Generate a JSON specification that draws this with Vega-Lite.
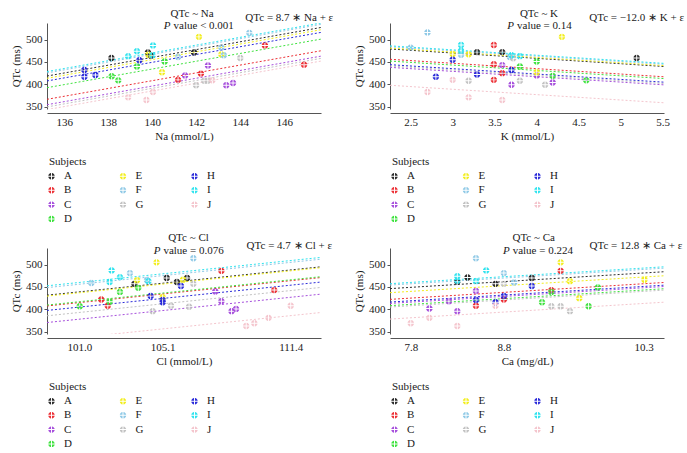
{
"$schema": "https://vega.github.io/schema/vega-lite/v6.json",
"padding": {"left": 10, "top": 7, "right": 0, "bottom": 0},
"columns": 2,
"spacing": {"row": 139, "column": 69},
"bounds": "flush",
"resolve": {"scale": {"color": "independent", "x": "independent", "y": "independent"}, "legend": {"color": "independent"}},
"datasets": {
"pts": [
{"panel":"Na","subject":"A","x":138.14,"qtc":459},{"panel":"Na","subject":"A","x":139.8,"qtc":471},{"panel":"Na","subject":"A","x":139.94,"qtc":464},{"panel":"Na","subject":"A","x":141.9,"qtc":471},
{"panel":"Na","subject":"B","x":141.17,"qtc":410},{"panel":"Na","subject":"B","x":142.21,"qtc":424},{"panel":"Na","subject":"B","x":145.12,"qtc":487},{"panel":"Na","subject":"B","x":146.9,"qtc":444},
{"panel":"Na","subject":"C","x":141.49,"qtc":420},{"panel":"Na","subject":"C","x":142.53,"qtc":442},{"panel":"Na","subject":"C","x":143.36,"qtc":398},{"panel":"Na","subject":"C","x":143.67,"qtc":403},
{"panel":"Na","subject":"D","x":138.15,"qtc":418},{"panel":"Na","subject":"D","x":138.45,"qtc":409},{"panel":"Na","subject":"D","x":139.3,"qtc":440},{"panel":"Na","subject":"D","x":140.56,"qtc":451},
{"panel":"Na","subject":"E","x":139.82,"qtc":466},{"panel":"Na","subject":"E","x":140.44,"qtc":427},{"panel":"Na","subject":"E","x":142.12,"qtc":506},{"panel":"Na","subject":"E","x":143.14,"qtc":467},
{"panel":"Na","subject":"F","x":141.17,"qtc":461},{"panel":"Na","subject":"F","x":143.14,"qtc":482},{"panel":"Na","subject":"F","x":144.41,"qtc":515},{"panel":"Na","subject":"F","x":143.25,"qtc":465},
{"panel":"Na","subject":"G","x":141.99,"qtc":398},{"panel":"Na","subject":"G","x":142.36,"qtc":408},{"panel":"Na","subject":"G","x":142.52,"qtc":408},{"panel":"Na","subject":"G","x":144.0,"qtc":459},
{"panel":"Na","subject":"H","x":136.91,"qtc":432},{"panel":"Na","subject":"H","x":136.91,"qtc":417},{"panel":"Na","subject":"H","x":137.41,"qtc":421},{"panel":"Na","subject":"H","x":139.41,"qtc":454},
{"panel":"Na","subject":"I","x":138.9,"qtc":463},{"panel":"Na","subject":"I","x":139.3,"qtc":474},{"panel":"Na","subject":"I","x":140.03,"qtc":487},{"panel":"Na","subject":"I","x":140.0,"qtc":465},
{"panel":"Na","subject":"J","x":138.9,"qtc":371},{"panel":"Na","subject":"J","x":139.73,"qtc":365},{"panel":"Na","subject":"J","x":140.03,"qtc":383},{"panel":"Na","subject":"J","x":142.73,"qtc":409},
{"panel":"K","subject":"A","x":3.29,"qtc":472},{"panel":"K","subject":"A","x":3.59,"qtc":472},{"panel":"K","subject":"A","x":5.19,"qtc":459},
{"panel":"K","subject":"B","x":3.49,"qtc":488},{"panel":"K","subject":"B","x":3.49,"qtc":445},{"panel":"K","subject":"B","x":3.59,"qtc":425},{"panel":"K","subject":"B","x":3.49,"qtc":410},
{"panel":"K","subject":"C","x":3.59,"qtc":443},{"panel":"K","subject":"C","x":3.7,"qtc":399},{"panel":"K","subject":"C","x":4.0,"qtc":420},{"panel":"K","subject":"C","x":4.19,"qtc":404},
{"panel":"K","subject":"D","x":3.8,"qtc":440},{"panel":"K","subject":"D","x":4.0,"qtc":451},{"panel":"K","subject":"D","x":4.19,"qtc":419},{"panel":"K","subject":"D","x":4.59,"qtc":409},
{"panel":"K","subject":"E","x":3.0,"qtc":468},{"panel":"K","subject":"E","x":3.19,"qtc":467},{"panel":"K","subject":"E","x":4.3,"qtc":506},{"panel":"K","subject":"E","x":4.0,"qtc":427},
{"panel":"K","subject":"F","x":2.7,"qtc":516},{"panel":"K","subject":"F","x":2.5,"qtc":482},{"panel":"K","subject":"F","x":3.1,"qtc":466},{"panel":"K","subject":"F","x":3.68,"qtc":461},
{"panel":"K","subject":"G","x":3.19,"qtc":408},{"panel":"K","subject":"G","x":3.8,"qtc":408},{"panel":"K","subject":"G","x":4.1,"qtc":399},{"panel":"K","subject":"G","x":3.72,"qtc":458},
{"panel":"K","subject":"H","x":3.0,"qtc":455},{"panel":"K","subject":"H","x":2.8,"qtc":417},{"panel":"K","subject":"H","x":3.29,"qtc":422},{"panel":"K","subject":"H","x":3.7,"qtc":432},
{"panel":"K","subject":"I","x":3.1,"qtc":488},{"panel":"K","subject":"I","x":3.1,"qtc":475},{"panel":"K","subject":"I","x":3.7,"qtc":465},{"panel":"K","subject":"I","x":3.8,"qtc":463},
{"panel":"K","subject":"J","x":3.0,"qtc":410},{"panel":"K","subject":"J","x":2.7,"qtc":383},{"panel":"K","subject":"J","x":3.19,"qtc":371},{"panel":"K","subject":"J","x":3.59,"qtc":365},
{"panel":"Cl","subject":"A","x":103.71,"qtc":457},{"panel":"Cl","subject":"A","x":105.3,"qtc":470},{"panel":"Cl","subject":"A","x":105.8,"qtc":461},{"panel":"Cl","subject":"A","x":106.3,"qtc":470},
{"panel":"Cl","subject":"B","x":102.08,"qtc":422},{"panel":"Cl","subject":"B","x":102.4,"qtc":408},{"panel":"Cl","subject":"B","x":107.99,"qtc":486},{"panel":"Cl","subject":"B","x":110.59,"qtc":443},
{"panel":"Cl","subject":"C","x":107.69,"qtc":440},{"panel":"Cl","subject":"C","x":107.99,"qtc":418},{"panel":"Cl","subject":"C","x":108.49,"qtc":396},{"panel":"Cl","subject":"C","x":108.71,"qtc":401},
{"panel":"Cl","subject":"D","x":101.02,"qtc":407},{"panel":"Cl","subject":"D","x":102.49,"qtc":417},{"panel":"Cl","subject":"D","x":103.0,"qtc":439},{"panel":"Cl","subject":"D","x":103.9,"qtc":448},
{"panel":"Cl","subject":"E","x":104.8,"qtc":505},{"panel":"Cl","subject":"E","x":103.84,"qtc":465},{"panel":"Cl","subject":"E","x":106.1,"qtc":466},{"panel":"Cl","subject":"E","x":105.1,"qtc":427},
{"panel":"Cl","subject":"F","x":101.59,"qtc":459},{"panel":"Cl","subject":"F","x":103.49,"qtc":481},{"panel":"Cl","subject":"F","x":106.61,"qtc":514},{"panel":"Cl","subject":"F","x":104.33,"qtc":465},
{"panel":"Cl","subject":"G","x":104.61,"qtc":396},{"panel":"Cl","subject":"G","x":105.51,"qtc":408},{"panel":"Cl","subject":"G","x":106.4,"qtc":406},{"panel":"Cl","subject":"G","x":106.61,"qtc":457},
{"panel":"Cl","subject":"H","x":104.51,"qtc":430},{"panel":"Cl","subject":"H","x":105.1,"qtc":421},{"panel":"Cl","subject":"H","x":105.1,"qtc":416},{"panel":"Cl","subject":"H","x":106.0,"qtc":452},
{"panel":"Cl","subject":"I","x":102.59,"qtc":487},{"panel":"Cl","subject":"I","x":102.49,"qtc":461},{"panel":"Cl","subject":"I","x":103.0,"qtc":472},{"panel":"Cl","subject":"I","x":104.4,"qtc":463},
{"panel":"Cl","subject":"J","x":109.21,"qtc":363},{"panel":"Cl","subject":"J","x":109.61,"qtc":369},{"panel":"Cl","subject":"J","x":110.31,"qtc":381},{"panel":"Cl","subject":"J","x":111.4,"qtc":408},
{"panel":"Ca","subject":"A","x":8.3,"qtc":462},{"panel":"Ca","subject":"A","x":8.41,"qtc":471},{"panel":"Ca","subject":"A","x":8.71,"qtc":457},{"panel":"Ca","subject":"A","x":9.1,"qtc":470},
{"panel":"Ca","subject":"B","x":8.5,"qtc":408},{"panel":"Ca","subject":"B","x":8.8,"qtc":422},{"panel":"Ca","subject":"B","x":9.31,"qtc":443},{"panel":"Ca","subject":"B","x":9.41,"qtc":486},
{"panel":"Ca","subject":"C","x":8.21,"qtc":418},{"panel":"Ca","subject":"C","x":8.0,"qtc":402},{"panel":"Ca","subject":"C","x":8.3,"qtc":396},{"panel":"Ca","subject":"C","x":8.5,"qtc":441},
{"panel":"Ca","subject":"D","x":9.21,"qtc":416},{"panel":"Ca","subject":"D","x":9.31,"qtc":439},{"panel":"Ca","subject":"D","x":9.71,"qtc":407},{"panel":"Ca","subject":"D","x":9.81,"qtc":449},
{"panel":"Ca","subject":"E","x":9.41,"qtc":505},{"panel":"Ca","subject":"E","x":9.51,"qtc":463},{"panel":"Ca","subject":"E","x":9.61,"qtc":425},{"panel":"Ca","subject":"E","x":10.31,"qtc":466},
{"panel":"Ca","subject":"F","x":8.5,"qtc":514},{"panel":"Ca","subject":"F","x":8.8,"qtc":481},{"panel":"Ca","subject":"F","x":8.91,"qtc":460},
{"panel":"Ca","subject":"G","x":8.8,"qtc":457},{"panel":"Ca","subject":"G","x":9.31,"qtc":407},{"panel":"Ca","subject":"G","x":9.41,"qtc":407},{"panel":"Ca","subject":"G","x":9.51,"qtc":396},
{"panel":"Ca","subject":"H","x":9.1,"qtc":452},{"panel":"Ca","subject":"H","x":8.5,"qtc":421},{"panel":"Ca","subject":"H","x":8.71,"qtc":416},{"panel":"Ca","subject":"H","x":8.8,"qtc":430},
{"panel":"Ca","subject":"I","x":8.61,"qtc":487},{"panel":"Ca","subject":"I","x":8.3,"qtc":474},{"panel":"Ca","subject":"I","x":8.3,"qtc":464},{"panel":"Ca","subject":"I","x":8.5,"qtc":463},
{"panel":"Ca","subject":"J","x":7.8,"qtc":369},{"panel":"Ca","subject":"J","x":8.0,"qtc":381},{"panel":"Ca","subject":"J","x":8.3,"qtc":363},{"panel":"Ca","subject":"J","x":8.71,"qtc":408}
],
"lines": [
{"panel":"Na","subject":"A","x1":135.21,"y1":418.6,"x2":147.67,"y2":527},{"panel":"Na","subject":"B","x1":135.21,"y1":366.6,"x2":147.67,"y2":475},{"panel":"Na","subject":"C","x1":135.21,"y1":354.6,"x2":147.67,"y2":463},{"panel":"Na","subject":"D","x1":135.21,"y1":392.6,"x2":147.67,"y2":501},{"panel":"Na","subject":"E","x1":135.21,"y1":413.6,"x2":147.67,"y2":522},{"panel":"Na","subject":"F","x1":135.21,"y1":425.6,"x2":147.67,"y2":534},{"panel":"Na","subject":"G","x1":135.21,"y1":349.6,"x2":147.67,"y2":458},{"panel":"Na","subject":"H","x1":135.21,"y1":407.6,"x2":147.67,"y2":516},{"panel":"Na","subject":"I","x1":135.21,"y1":428.6,"x2":147.67,"y2":537},{"panel":"Na","subject":"J","x1":135.21,"y1":343.6,"x2":147.67,"y2":452},
{"panel":"K","subject":"A","x1":2.254,"y1":479,"x2":5.515,"y2":439.9},{"panel":"K","subject":"B","x1":2.254,"y1":456,"x2":5.515,"y2":416.9},{"panel":"K","subject":"C","x1":2.254,"y1":438,"x2":5.515,"y2":398.9},{"panel":"K","subject":"D","x1":2.254,"y1":452,"x2":5.515,"y2":412.9},{"panel":"K","subject":"E","x1":2.254,"y1":481,"x2":5.515,"y2":441.9},{"panel":"K","subject":"F","x1":2.254,"y1":484,"x2":5.515,"y2":444.9},{"panel":"K","subject":"G","x1":2.254,"y1":441,"x2":5.515,"y2":401.9},{"panel":"K","subject":"H","x1":2.254,"y1":444,"x2":5.515,"y2":404.9},{"panel":"K","subject":"I","x1":2.254,"y1":486,"x2":5.515,"y2":446.9},{"panel":"K","subject":"J","x1":2.254,"y1":398,"x2":5.515,"y2":358.9},
{"panel":"Cl","subject":"A","x1":99.41,"y1":431.6,"x2":112.89,"y2":495},{"panel":"Cl","subject":"B","x1":99.41,"y1":407.6,"x2":112.89,"y2":471},{"panel":"Cl","subject":"C","x1":99.41,"y1":370.6,"x2":112.89,"y2":434},{"panel":"Cl","subject":"D","x1":99.41,"y1":409.6,"x2":112.89,"y2":473},{"panel":"Cl","subject":"E","x1":99.41,"y1":429.6,"x2":112.89,"y2":493},{"panel":"Cl","subject":"F","x1":99.41,"y1":448.6,"x2":112.89,"y2":512},{"panel":"Cl","subject":"G","x1":99.41,"y1":385.6,"x2":112.89,"y2":449},{"panel":"Cl","subject":"H","x1":99.41,"y1":397.6,"x2":112.89,"y2":461},{"panel":"Cl","subject":"I","x1":99.41,"y1":452.6,"x2":112.89,"y2":516},{"panel":"Cl","subject":"J","x1":99.41,"y1":329.6,"x2":112.89,"y2":393},
{"panel":"Ca","subject":"A","x1":7.577,"y1":446.3,"x2":10.52,"y2":484},{"panel":"Ca","subject":"B","x1":7.577,"y1":422.3,"x2":10.52,"y2":460},{"panel":"Ca","subject":"C","x1":7.577,"y1":413.3,"x2":10.52,"y2":451},{"panel":"Ca","subject":"D","x1":7.577,"y1":408.3,"x2":10.52,"y2":446},{"panel":"Ca","subject":"E","x1":7.577,"y1":437.3,"x2":10.52,"y2":475},{"panel":"Ca","subject":"F","x1":7.577,"y1":454.3,"x2":10.52,"y2":492},{"panel":"Ca","subject":"G","x1":7.577,"y1":405.3,"x2":10.52,"y2":443},{"panel":"Ca","subject":"H","x1":7.577,"y1":416.3,"x2":10.52,"y2":454},{"panel":"Ca","subject":"I","x1":7.577,"y1":457.3,"x2":10.52,"y2":495},{"panel":"Ca","subject":"J","x1":7.577,"y1":378.3,"x2":10.52,"y2":416}
]
},
"concat": [
{"width": 274, "height": 86, "layer": [
 {"data": {"name": "lines"}, "transform": [{"filter": "datum.panel === 'Na'"}], "mark": {"type": "rule", "strokeDash": [2, 2], "strokeWidth": 1, "clip": true},
  "encoding": {"x": {"field": "x1", "type": "quantitative", "scale": {"domain": [135.21, 147.67], "nice": false, "zero": false}, "axis": {"title": "Na (mmol/L)", "values": [136, 138, 140, 142, 144, 146], "format": "d", "tickCount": 10}}, "x2": {"field": "x2"},
   "y": {"field": "y1", "type": "quantitative", "scale": {"domain": [345, 537], "nice": false, "zero": false}, "axis": {"title": "QTc (ms)", "values": [350, 400, 450, 500], "tickCount": 10}}, "y2": {"field": "y2"},
   "color": {"field": "subject", "type": "nominal", "scale": {"domain": ["A","E","H","B","F","I","C","G","J","D"], "range": ["#2b2b2b","#f2ee1c","#2b2bd9","#ec2f35","#8fc9e6","#30e3ee","#a64fdc","#c2c2c2","#f4c5cd","#3fe23f"]}}}},
 {"data": {"name": "pts"}, "transform": [{"filter": "datum.panel === 'Na'"}], "mark": {"type": "point", "filled": true, "opacity": 1, "size": 42, "shape": "M0.15,-0.15L0.15,-0.99A0.99,0.99,0,0,1,0.99,-0.15ZM0.15,0.15L0.99,0.15A0.99,0.99,0,0,1,0.15,0.99ZM-0.15,0.15L-0.15,0.99A0.99,0.99,0,0,1,-0.99,0.15ZM-0.15,-0.15L-0.99,-0.15A0.99,0.99,0,0,1,-0.15,-0.99Z"},
  "encoding": {"x": {"field": "x", "type": "quantitative", "axis": {"title": "Na (mmol/L)", "values": [136, 138, 140, 142, 144, 146], "format": "d", "tickCount": 10}}, "y": {"field": "qtc", "type": "quantitative", "axis": {"title": "QTc (ms)", "values": [350, 400, 450, 500], "tickCount": 10}},
   "color": {"field": "subject", "type": "nominal", "scale": {"domain": ["A","E","H","B","F","I","C","G","J","D"], "range": ["#2b2b2b","#f2ee1c","#2b2bd9","#ec2f35","#8fc9e6","#30e3ee","#a64fdc","#c2c2c2","#f4c5cd","#3fe23f"]},
    "legend": {"title": "Subjects", "orient": "none", "legendX": 2, "legendY": 132.5, "direction": "horizontal", "columns": 3, "columnPadding": 47.5, "rowPadding": 2.3, "gridAlign": "all", "symbolOffset": -3, "symbolType": "M0.15,-0.15L0.15,-0.99A0.99,0.99,0,0,1,0.99,-0.15ZM0.15,0.15L0.99,0.15A0.99,0.99,0,0,1,0.15,0.99ZM-0.15,0.15L-0.15,0.99A0.99,0.99,0,0,1,-0.99,0.15ZM-0.15,-0.15L-0.99,-0.15A0.99,0.99,0,0,1,-0.15,-0.99Z", "symbolSize": 42, "symbolStrokeWidth": 0, "symbolDash": []}}}},
 {"data": {"values": [{}]}, "mark": {"type": "text", "text": "QTc ~ Na", "align": "center", "baseline": "middle", "fontSize": 11}, "encoding": {"x": {"datum": 141.81, "type": "quantitative"}, "y": {"datum": 558, "type": "quantitative"}}},
 {"data": {"values": [{}]}, "mark": {"type": "text", "text": "P", "fontStyle": "italic", "align": "right", "baseline": "middle", "fontSize": 11}, "encoding": {"x": {"datum": 140.83, "type": "quantitative"}, "y": {"datum": 529.5, "type": "quantitative"}}},
 {"data": {"values": [{}]}, "mark": {"type": "text", "text": "value < 0.001", "align": "left", "baseline": "middle", "fontSize": 11, "dx": 3}, "encoding": {"x": {"datum": 140.83, "type": "quantitative"}, "y": {"datum": 529.5, "type": "quantitative"}}},
 {"data": {"values": [{}]}, "mark": {"type": "text", "text": "QTc = 8.7  ∗ Na + ε", "align": "left", "baseline": "middle", "fontSize": 11}, "encoding": {"x": {"datum": 144.23, "type": "quantitative"}, "y": {"datum": 549, "type": "quantitative"}}}
]},
{"width": 274, "height": 86, "layer": [
 {"data": {"name": "lines"}, "transform": [{"filter": "datum.panel === 'K'"}], "mark": {"type": "rule", "strokeDash": [2, 2], "strokeWidth": 1, "clip": true},
  "encoding": {"x": {"field": "x1", "type": "quantitative", "scale": {"domain": [2.254, 5.515], "nice": false, "zero": false}, "axis": {"title": "K (mmol/L)", "values": [2.5, 3, 3.5, 4, 4.5, 5, 5.5], "format": "~g", "tickCount": 10}}, "x2": {"field": "x2"},
   "y": {"field": "y1", "type": "quantitative", "scale": {"domain": [345, 537], "nice": false, "zero": false}, "axis": {"title": "QTc (ms)", "values": [350, 400, 450, 500], "tickCount": 10}}, "y2": {"field": "y2"},
   "color": {"field": "subject", "type": "nominal", "scale": {"domain": ["A","E","H","B","F","I","C","G","J","D"], "range": ["#2b2b2b","#f2ee1c","#2b2bd9","#ec2f35","#8fc9e6","#30e3ee","#a64fdc","#c2c2c2","#f4c5cd","#3fe23f"]}}}},
 {"data": {"name": "pts"}, "transform": [{"filter": "datum.panel === 'K'"}], "mark": {"type": "point", "filled": true, "opacity": 1, "size": 42, "shape": "M0.15,-0.15L0.15,-0.99A0.99,0.99,0,0,1,0.99,-0.15ZM0.15,0.15L0.99,0.15A0.99,0.99,0,0,1,0.15,0.99ZM-0.15,0.15L-0.15,0.99A0.99,0.99,0,0,1,-0.99,0.15ZM-0.15,-0.15L-0.99,-0.15A0.99,0.99,0,0,1,-0.15,-0.99Z"},
  "encoding": {"x": {"field": "x", "type": "quantitative", "axis": {"title": "K (mmol/L)", "values": [2.5, 3, 3.5, 4, 4.5, 5, 5.5], "format": "~g", "tickCount": 10}}, "y": {"field": "qtc", "type": "quantitative", "axis": {"title": "QTc (ms)", "values": [350, 400, 450, 500], "tickCount": 10}},
   "color": {"field": "subject", "type": "nominal", "scale": {"domain": ["A","E","H","B","F","I","C","G","J","D"], "range": ["#2b2b2b","#f2ee1c","#2b2bd9","#ec2f35","#8fc9e6","#30e3ee","#a64fdc","#c2c2c2","#f4c5cd","#3fe23f"]},
    "legend": {"title": "Subjects", "orient": "none", "legendX": 2, "legendY": 132.5, "direction": "horizontal", "columns": 3, "columnPadding": 47.5, "rowPadding": 2.3, "gridAlign": "all", "symbolOffset": -3, "symbolType": "M0.15,-0.15L0.15,-0.99A0.99,0.99,0,0,1,0.99,-0.15ZM0.15,0.15L0.99,0.15A0.99,0.99,0,0,1,0.15,0.99ZM-0.15,0.15L-0.15,0.99A0.99,0.99,0,0,1,-0.99,0.15ZM-0.15,-0.15L-0.99,-0.15A0.99,0.99,0,0,1,-0.15,-0.99Z", "symbolSize": 42, "symbolStrokeWidth": 0, "symbolDash": []}}}},
 {"data": {"values": [{}]}, "mark": {"type": "text", "text": "QTc ~ K", "align": "center", "baseline": "middle", "fontSize": 11}, "encoding": {"x": {"datum": 4.027, "type": "quantitative"}, "y": {"datum": 558, "type": "quantitative"}}},
 {"data": {"values": [{}]}, "mark": {"type": "text", "text": "P", "fontStyle": "italic", "align": "right", "baseline": "middle", "fontSize": 11}, "encoding": {"x": {"datum": 3.73, "type": "quantitative"}, "y": {"datum": 529.5, "type": "quantitative"}}},
 {"data": {"values": [{}]}, "mark": {"type": "text", "text": "value = 0.14", "align": "left", "baseline": "middle", "fontSize": 11, "dx": 3}, "encoding": {"x": {"datum": 3.73, "type": "quantitative"}, "y": {"datum": 529.5, "type": "quantitative"}}},
 {"data": {"values": [{}]}, "mark": {"type": "text", "text": "QTc = −12.0 ∗ K + ε", "align": "left", "baseline": "middle", "fontSize": 11}, "encoding": {"x": {"datum": 4.626, "type": "quantitative"}, "y": {"datum": 549, "type": "quantitative"}}}
]},
{"width": 274, "height": 86, "layer": [
 {"data": {"name": "lines"}, "transform": [{"filter": "datum.panel === 'Cl'"}], "mark": {"type": "rule", "strokeDash": [2, 2], "strokeWidth": 1, "clip": true},
  "encoding": {"x": {"field": "x1", "type": "quantitative", "scale": {"domain": [99.41, 112.89], "nice": false, "zero": false}, "axis": {"title": "Cl (mmol/L)", "values": [101.0, 105.1, 111.4], "format": ".1f", "tickCount": 10}}, "x2": {"field": "x2"},
   "y": {"field": "y1", "type": "quantitative", "scale": {"domain": [345, 537], "nice": false, "zero": false}, "axis": {"title": "QTc (ms)", "values": [350, 400, 450, 500], "tickCount": 10}}, "y2": {"field": "y2"},
   "color": {"field": "subject", "type": "nominal", "scale": {"domain": ["A","E","H","B","F","I","C","G","J","D"], "range": ["#2b2b2b","#f2ee1c","#2b2bd9","#ec2f35","#8fc9e6","#30e3ee","#a64fdc","#c2c2c2","#f4c5cd","#3fe23f"]}}}},
 {"data": {"name": "pts"}, "transform": [{"filter": "datum.panel === 'Cl'"}], "mark": {"type": "point", "filled": true, "opacity": 1, "size": 42, "shape": "M0.15,-0.15L0.15,-0.99A0.99,0.99,0,0,1,0.99,-0.15ZM0.15,0.15L0.99,0.15A0.99,0.99,0,0,1,0.15,0.99ZM-0.15,0.15L-0.15,0.99A0.99,0.99,0,0,1,-0.99,0.15ZM-0.15,-0.15L-0.99,-0.15A0.99,0.99,0,0,1,-0.15,-0.99Z"},
  "encoding": {"x": {"field": "x", "type": "quantitative", "axis": {"title": "Cl (mmol/L)", "values": [101.0, 105.1, 111.4], "format": ".1f", "tickCount": 10}}, "y": {"field": "qtc", "type": "quantitative", "axis": {"title": "QTc (ms)", "values": [350, 400, 450, 500], "tickCount": 10}},
   "color": {"field": "subject", "type": "nominal", "scale": {"domain": ["A","E","H","B","F","I","C","G","J","D"], "range": ["#2b2b2b","#f2ee1c","#2b2bd9","#ec2f35","#8fc9e6","#30e3ee","#a64fdc","#c2c2c2","#f4c5cd","#3fe23f"]},
    "legend": {"title": "Subjects", "orient": "none", "legendX": 2, "legendY": 132.5, "direction": "horizontal", "columns": 3, "columnPadding": 47.5, "rowPadding": 2.3, "gridAlign": "all", "symbolOffset": -3, "symbolType": "M0.15,-0.15L0.15,-0.99A0.99,0.99,0,0,1,0.99,-0.15ZM0.15,0.15L0.99,0.15A0.99,0.99,0,0,1,0.15,0.99ZM-0.15,0.15L-0.15,0.99A0.99,0.99,0,0,1,-0.99,0.15ZM-0.15,-0.15L-0.99,-0.15A0.99,0.99,0,0,1,-0.15,-0.99Z", "symbolSize": 42, "symbolStrokeWidth": 0, "symbolDash": []}}}},
 {"data": {"values": [{}]}, "mark": {"type": "text", "text": "QTc ~ Cl", "align": "center", "baseline": "middle", "fontSize": 11}, "encoding": {"x": {"datum": 106.37, "type": "quantitative"}, "y": {"datum": 559, "type": "quantitative"}}},
 {"data": {"values": [{}]}, "mark": {"type": "text", "text": "P", "fontStyle": "italic", "align": "right", "baseline": "middle", "fontSize": 11}, "encoding": {"x": {"datum": 104.99, "type": "quantitative"}, "y": {"datum": 529.5, "type": "quantitative"}}},
 {"data": {"values": [{}]}, "mark": {"type": "text", "text": "value = 0.076", "align": "left", "baseline": "middle", "fontSize": 11, "dx": 3}, "encoding": {"x": {"datum": 104.99, "type": "quantitative"}, "y": {"datum": 529.5, "type": "quantitative"}}},
 {"data": {"values": [{}]}, "mark": {"type": "text", "text": "QTc = 4.7 ∗ Cl + ε", "align": "left", "baseline": "middle", "fontSize": 11}, "encoding": {"x": {"datum": 109.23, "type": "quantitative"}, "y": {"datum": 541, "type": "quantitative"}}}
]},
{"width": 274, "height": 86, "layer": [
 {"data": {"name": "lines"}, "transform": [{"filter": "datum.panel === 'Ca'"}], "mark": {"type": "rule", "strokeDash": [2, 2], "strokeWidth": 1, "clip": true},
  "encoding": {"x": {"field": "x1", "type": "quantitative", "scale": {"domain": [7.577, 10.52], "nice": false, "zero": false}, "axis": {"title": "Ca (mg/dL)", "values": [7.8, 8.8, 10.3], "format": ".1f", "tickCount": 10}}, "x2": {"field": "x2"},
   "y": {"field": "y1", "type": "quantitative", "scale": {"domain": [345, 537], "nice": false, "zero": false}, "axis": {"title": "QTc (ms)", "values": [350, 400, 450, 500], "tickCount": 10}}, "y2": {"field": "y2"},
   "color": {"field": "subject", "type": "nominal", "scale": {"domain": ["A","E","H","B","F","I","C","G","J","D"], "range": ["#2b2b2b","#f2ee1c","#2b2bd9","#ec2f35","#8fc9e6","#30e3ee","#a64fdc","#c2c2c2","#f4c5cd","#3fe23f"]}}}},
 {"data": {"name": "pts"}, "transform": [{"filter": "datum.panel === 'Ca'"}], "mark": {"type": "point", "filled": true, "opacity": 1, "size": 42, "shape": "M0.15,-0.15L0.15,-0.99A0.99,0.99,0,0,1,0.99,-0.15ZM0.15,0.15L0.99,0.15A0.99,0.99,0,0,1,0.15,0.99ZM-0.15,0.15L-0.15,0.99A0.99,0.99,0,0,1,-0.99,0.15ZM-0.15,-0.15L-0.99,-0.15A0.99,0.99,0,0,1,-0.15,-0.99Z"},
  "encoding": {"x": {"field": "x", "type": "quantitative", "axis": {"title": "Ca (mg/dL)", "values": [7.8, 8.8, 10.3], "format": ".1f", "tickCount": 10}}, "y": {"field": "qtc", "type": "quantitative", "axis": {"title": "QTc (ms)", "values": [350, 400, 450, 500], "tickCount": 10}},
   "color": {"field": "subject", "type": "nominal", "scale": {"domain": ["A","E","H","B","F","I","C","G","J","D"], "range": ["#2b2b2b","#f2ee1c","#2b2bd9","#ec2f35","#8fc9e6","#30e3ee","#a64fdc","#c2c2c2","#f4c5cd","#3fe23f"]},
    "legend": {"title": "Subjects", "orient": "none", "legendX": 2, "legendY": 132.5, "direction": "horizontal", "columns": 3, "columnPadding": 47.5, "rowPadding": 2.3, "gridAlign": "all", "symbolOffset": -3, "symbolType": "M0.15,-0.15L0.15,-0.99A0.99,0.99,0,0,1,0.99,-0.15ZM0.15,0.15L0.99,0.15A0.99,0.99,0,0,1,0.15,0.99ZM-0.15,0.15L-0.15,0.99A0.99,0.99,0,0,1,-0.99,0.15ZM-0.15,-0.15L-0.99,-0.15A0.99,0.99,0,0,1,-0.15,-0.99Z", "symbolSize": 42, "symbolStrokeWidth": 0, "symbolDash": []}}}},
 {"data": {"values": [{}]}, "mark": {"type": "text", "text": "QTc ~ Ca", "align": "center", "baseline": "middle", "fontSize": 11}, "encoding": {"x": {"datum": 9.12, "type": "quantitative"}, "y": {"datum": 559, "type": "quantitative"}}},
 {"data": {"values": [{}]}, "mark": {"type": "text", "text": "P", "fontStyle": "italic", "align": "right", "baseline": "middle", "fontSize": 11}, "encoding": {"x": {"datum": 8.862, "type": "quantitative"}, "y": {"datum": 529.5, "type": "quantitative"}}},
 {"data": {"values": [{}]}, "mark": {"type": "text", "text": "value = 0.224", "align": "left", "baseline": "middle", "fontSize": 11, "dx": 3}, "encoding": {"x": {"datum": 8.862, "type": "quantitative"}, "y": {"datum": 529.5, "type": "quantitative"}}},
 {"data": {"values": [{}]}, "mark": {"type": "text", "text": "QTc = 12.8 ∗ Ca + ε", "align": "left", "baseline": "middle", "fontSize": 11}, "encoding": {"x": {"datum": 9.72, "type": "quantitative"}, "y": {"datum": 541, "type": "quantitative"}}}
]}
],
"config": {
 "font": "Liberation Serif",
 "view": {"stroke": null},
 "text": {"font": "Liberation Serif", "color": "#1a1a1a"},
 "axis": {"grid": false, "labelFont": "Liberation Serif", "titleFont": "Liberation Serif", "labelFontSize": 11, "titleFontSize": 11, "titleFontWeight": "normal", "labelColor": "#1a1a1a", "titleColor": "#1a1a1a", "domainColor": "#555555", "tickColor": "#555555", "tickSize": 3, "labelOverlap": false},
 "axisX": {"ticks": false, "offset": 4, "labelPadding": 3, "titlePadding": 3},
 "axisY": {"titlePadding": 4, "labelPadding": 2},
 "legend": {"labelFont": "Liberation Serif", "titleFont": "Liberation Serif", "labelFontSize": 11, "titleFontSize": 11, "titleFontWeight": "normal", "labelColor": "#1a1a1a", "titleColor": "#1a1a1a", "labelOffset": 7, "titlePadding": 4}
}
}
